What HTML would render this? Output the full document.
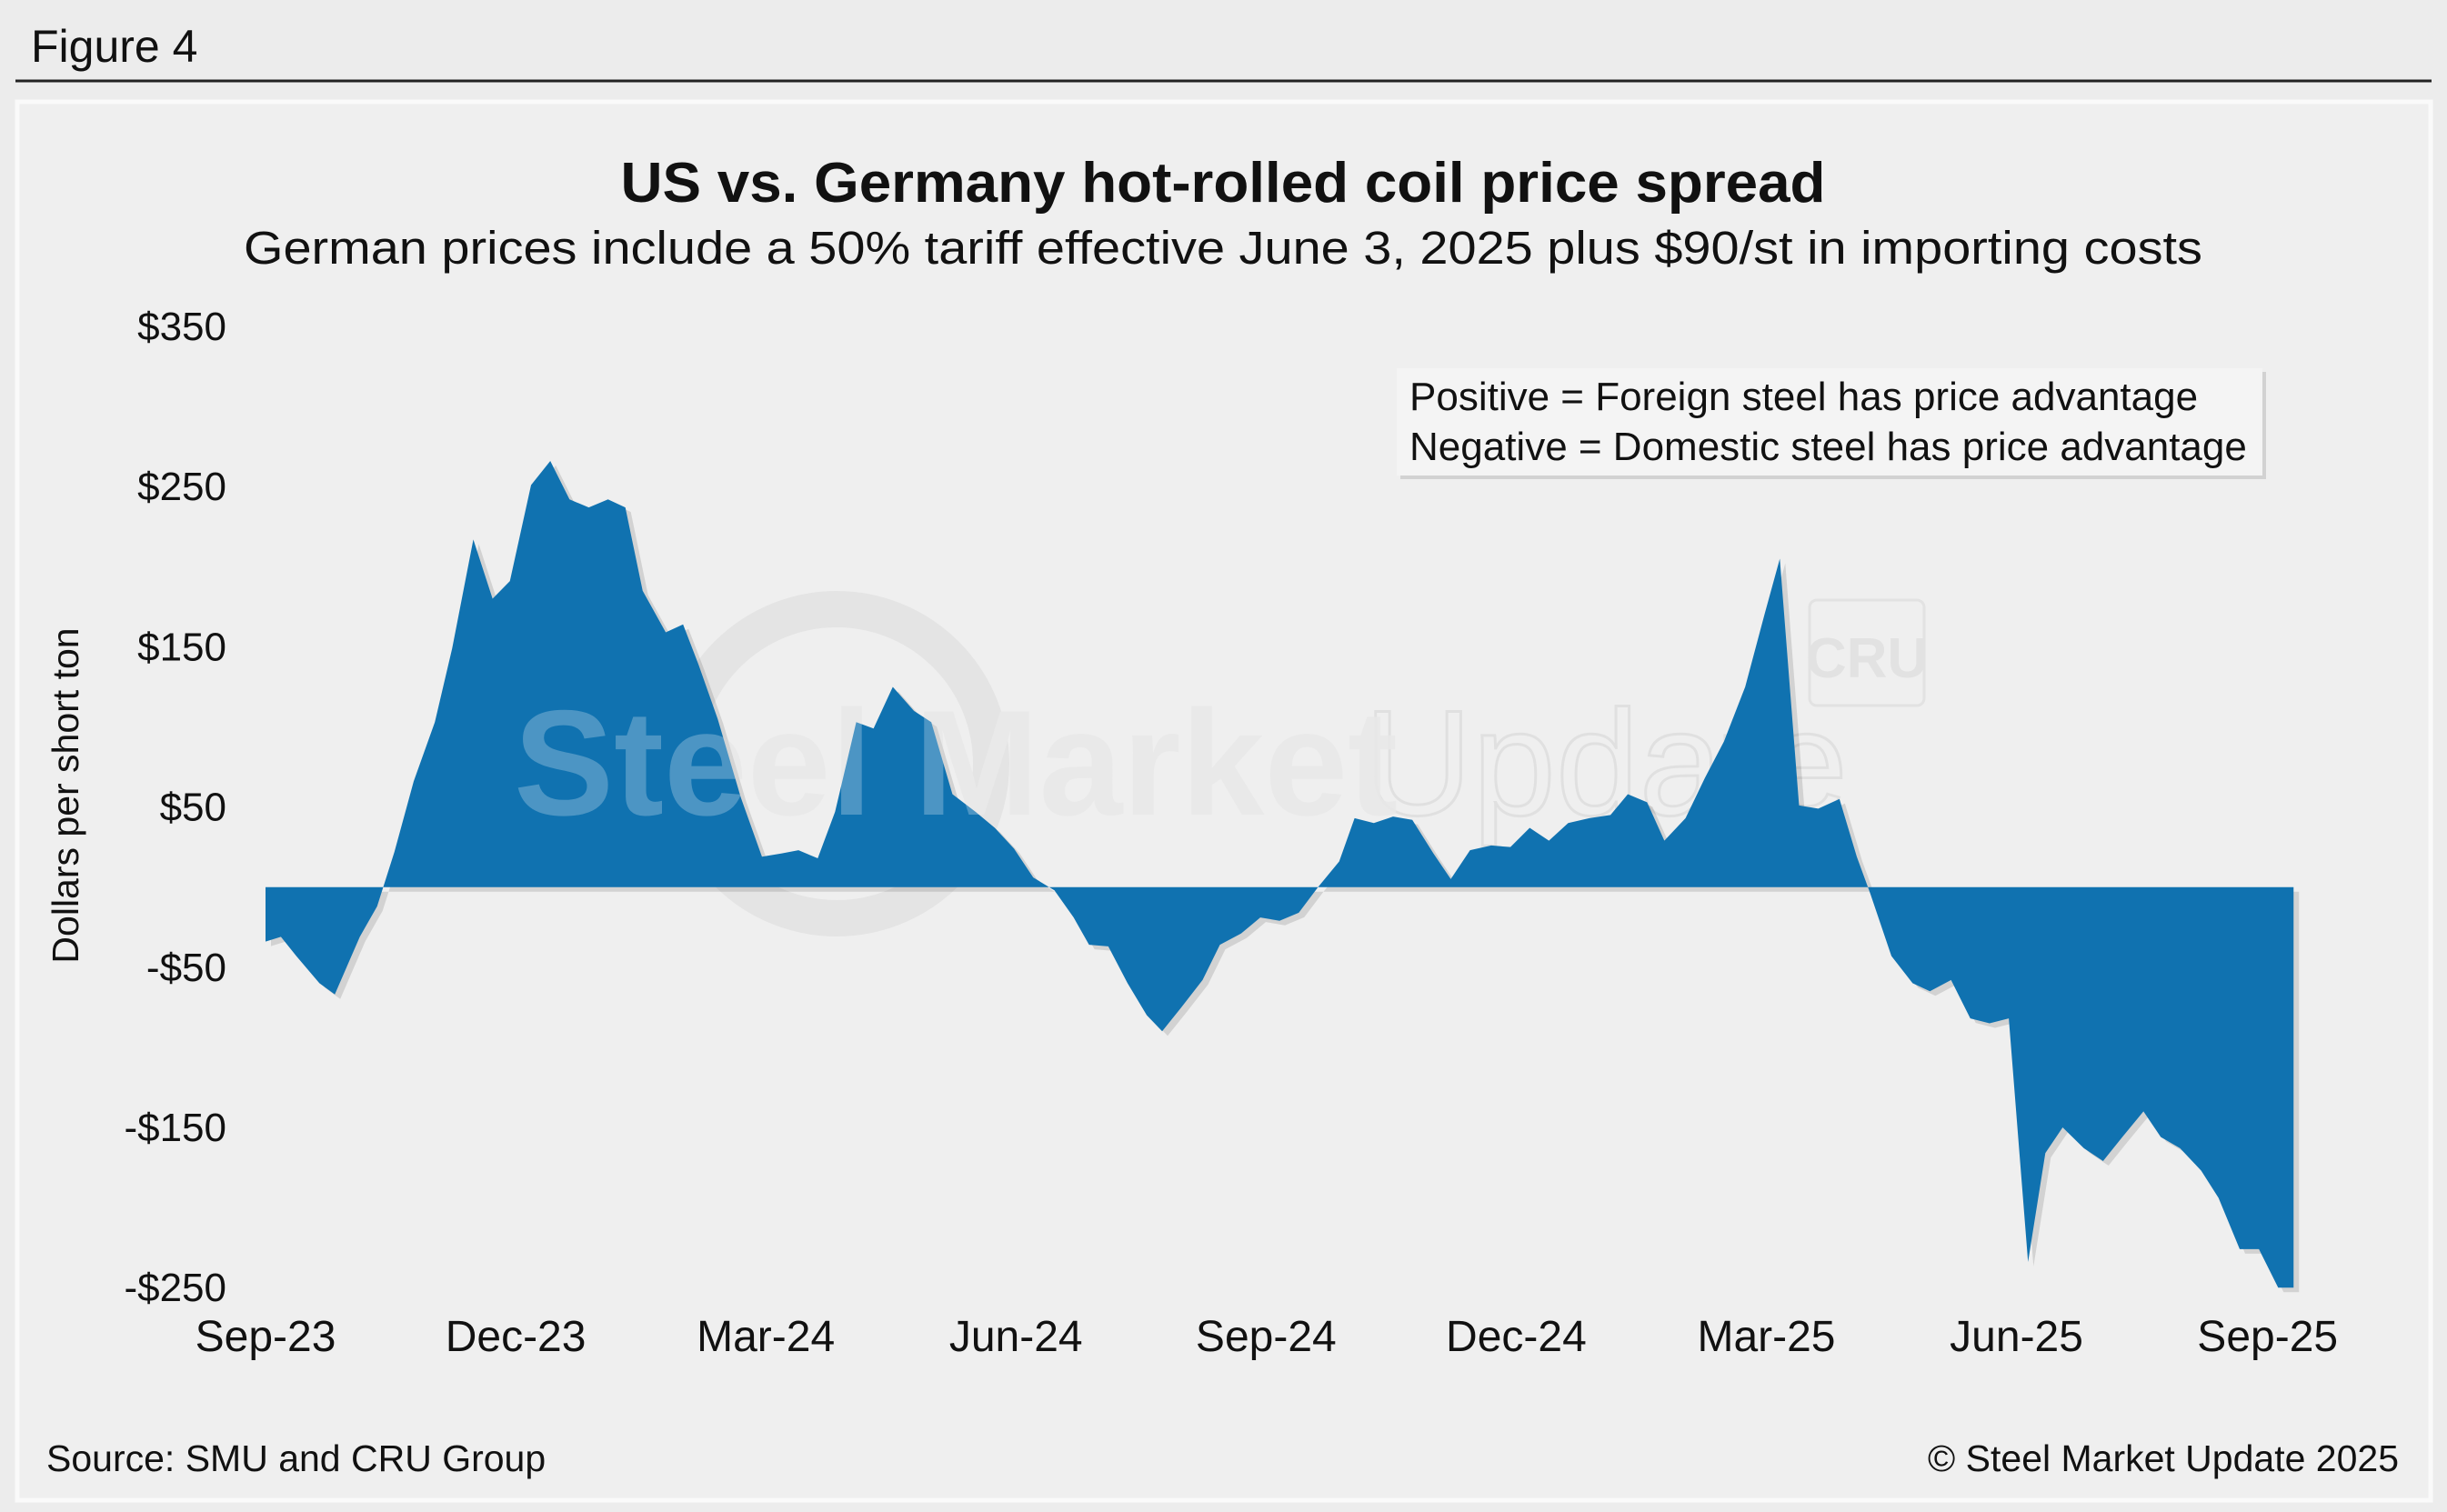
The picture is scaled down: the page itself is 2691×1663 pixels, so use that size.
<!DOCTYPE html>
<html><head><meta charset="utf-8"><style>
html,body{margin:0;padding:0;background:#ececec;}
body{width:2691px;height:1663px;position:relative;overflow:hidden;font-family:"Liberation Sans",sans-serif;}
</style></head><body>
<svg id="chart" width="2691" height="1663" xmlns="http://www.w3.org/2000/svg" style="position:absolute;left:0;top:0">
<rect x="0" y="0" width="2691" height="1663" fill="#ececec"/>
<text x="34" y="68" font-size="50" fill="#111">Figure 4</text>
<line x1="17" y1="89" x2="2674" y2="89" stroke="#222" stroke-width="3"/>
<rect x="19" y="112" width="2654" height="1538" fill="#efefef" stroke="#fafafa" stroke-width="5"/>
<text x="1345" y="222" font-size="62" font-weight="bold" text-anchor="middle" textLength="1325" lengthAdjust="spacingAndGlyphs" fill="#111">US vs. Germany hot-rolled coil price spread</text>
<text x="1345" y="290" font-size="51" text-anchor="middle" textLength="2154" lengthAdjust="spacingAndGlyphs" fill="#111">German prices include a 50% tariff effective June 3, 2025 plus $90/st in importing costs</text>
<g id="watermark">
<circle cx="920" cy="840" r="170" fill="none" stroke="#e4e4e4" stroke-width="40"/>
<text x="565" y="896" font-size="165" font-weight="bold" fill="#e2e2e2">Steel Market</text>
<text x="1500" y="896" font-size="165" fill="none" stroke="#e0e0e0" stroke-width="3">Update</text>
<rect x="1990" y="660" width="126" height="116" rx="8" fill="none" stroke="#e2e2e2" stroke-width="3"/>
<text x="2053" y="745" font-size="62" font-weight="bold" text-anchor="middle" fill="#e2e2e2">CRU</text>
</g>
<g id="plot"></g>
<text transform="translate(86,875) rotate(-90)" font-size="41" text-anchor="middle" fill="#111">Dollars per short ton</text>
<g>
<rect x="1540" y="409" width="952" height="118" fill="#000" opacity="0.12"/>
<rect x="1536" y="405" width="952" height="118" fill="#f4f4f4"/>
<text x="1550" y="451" font-size="44" fill="#111">Positive = Foreign steel has price advantage</text>
<text x="1550" y="506" font-size="44" fill="#111">Negative = Domestic steel has price advantage</text>
</g>
<text x="51" y="1618" font-size="41" fill="#111">Source: SMU and CRU Group</text>
<text x="2638" y="1618" font-size="41" text-anchor="end" fill="#111">© Steel Market Update 2025</text>
</svg>
<script>
const weeks=[0,0.8,1.6,2.8,3.6,4.9,5.8,6.7,7.7,8.8,9.7,10.8,11.8,12.7,13.8,14.8,15.8,16.8,17.8,18.7,19.6,20.8,21.7,22.5,23.5,24.7,25.8,26.8,27.7,28.7,29.6,30.7,31.6,32.6,33.7,34.6,35.7,36.9,37.9,38.9,39.9,41.0,42.0,42.8,43.8,44.8,45.8,46.6,47.6,48.7,49.6,50.7,51.7,52.7,53.7,54.7,55.8,56.6,57.6,58.6,59.6,60.7,61.6,62.6,63.7,64.7,65.7,66.7,67.7,68.8,69.9,70.8,71.8,72.7,73.8,74.8,75.8,76.9,77.9,78.7,79.7,80.7,81.8,82.7,83.4,84.5,85.6,86.5,87.6,88.6,89.6,90.6,91.6,92.5,93.4,94.5,95.5,96.5,97.6,98.5,99.5,100.6,101.5,102.6,103.6,104.6,105.4];
const spread=[-34,-31,-43,-60,-67,-31,-12,22,66,103,149,217,180,191,251,266,242,237,242,237,185,159,164,139,105,56,19,21,23,18,47,103,99,125,110,103,58,47,37,24,6,-2,-19,-36,-37,-60,-80,-90,-75,-58,-36,-29,-19,-21,-16,0,16,43,40,44,42,21,5,23,26,25,37,29,40,43,45,58,53,29,43,68,91,125,170,205,51,49,55,19,-4,-43,-60,-65,-58,-82,-85,-82,-234,-166,-150,-163,-171,-156,-140,-156,-163,-177,-194,-226,-226,-250,-250];
const yTicks=[350,250,150,50,-50,-150,-250];
const xTickLabels=["Sep-23","Dec-23","Mar-24","Jun-24","Sep-24","Dec-24","Mar-25","Jun-25","Sep-25"];
const xTickWeeks=[0,13.0,26.0,39.0,52.0,65.0,78.0,91.0,104.05];

const X=w=>292+w*21.16;
const Y=v=>975.7-v*1.762;
const NS="http://www.w3.org/2000/svg";
const plot=document.getElementById('plot');
let d=`M${X(weeks[0])},${Y(0)}`;
weeks.forEach((w,i)=>{d+=` L${X(w)},${Y(spread[i])}`;});
d+=` L${X(weeks[weeks.length-1])},${Y(0)} Z`;
const shadow=document.createElementNS(NS,'path');
shadow.setAttribute('d',d);shadow.setAttribute('fill','#000');shadow.setAttribute('opacity','0.12');
shadow.setAttribute('transform','translate(6,5)');


plot.appendChild(shadow);
const area=document.createElementNS(NS,'path');
area.setAttribute('d',d);area.setAttribute('fill','#1072b0');


plot.appendChild(area);
const wm=document.createElementNS(NS,'text');
wm.setAttribute('x','565');wm.setAttribute('y','896');wm.setAttribute('font-size','165');wm.setAttribute('font-weight','bold');
wm.setAttribute('fill','#ffffff');wm.setAttribute('opacity','0.25');wm.textContent='Steel Market';


plot.appendChild(wm);
yTicks.forEach(v=>{
  const t=document.createElementNS(NS,'text');
  t.setAttribute('x','249');t.setAttribute('y',Y(v)+15);t.setAttribute('font-size','44');
  t.setAttribute('text-anchor','end');t.setAttribute('fill','#111');
  t.textContent=(v<0?'-$':'$')+Math.abs(v);
  
  
  plot.appendChild(t);
});
xTickLabels.forEach((lab,i)=>{
  const t=document.createElementNS(NS,'text');
  t.setAttribute('x',X(xTickWeeks[i]));t.setAttribute('y','1486');t.setAttribute('font-size','48');
  t.setAttribute('text-anchor','middle');t.setAttribute('fill','#111');
  t.textContent=lab;
  
  
  plot.appendChild(t);
});
</script>
</body></html>
